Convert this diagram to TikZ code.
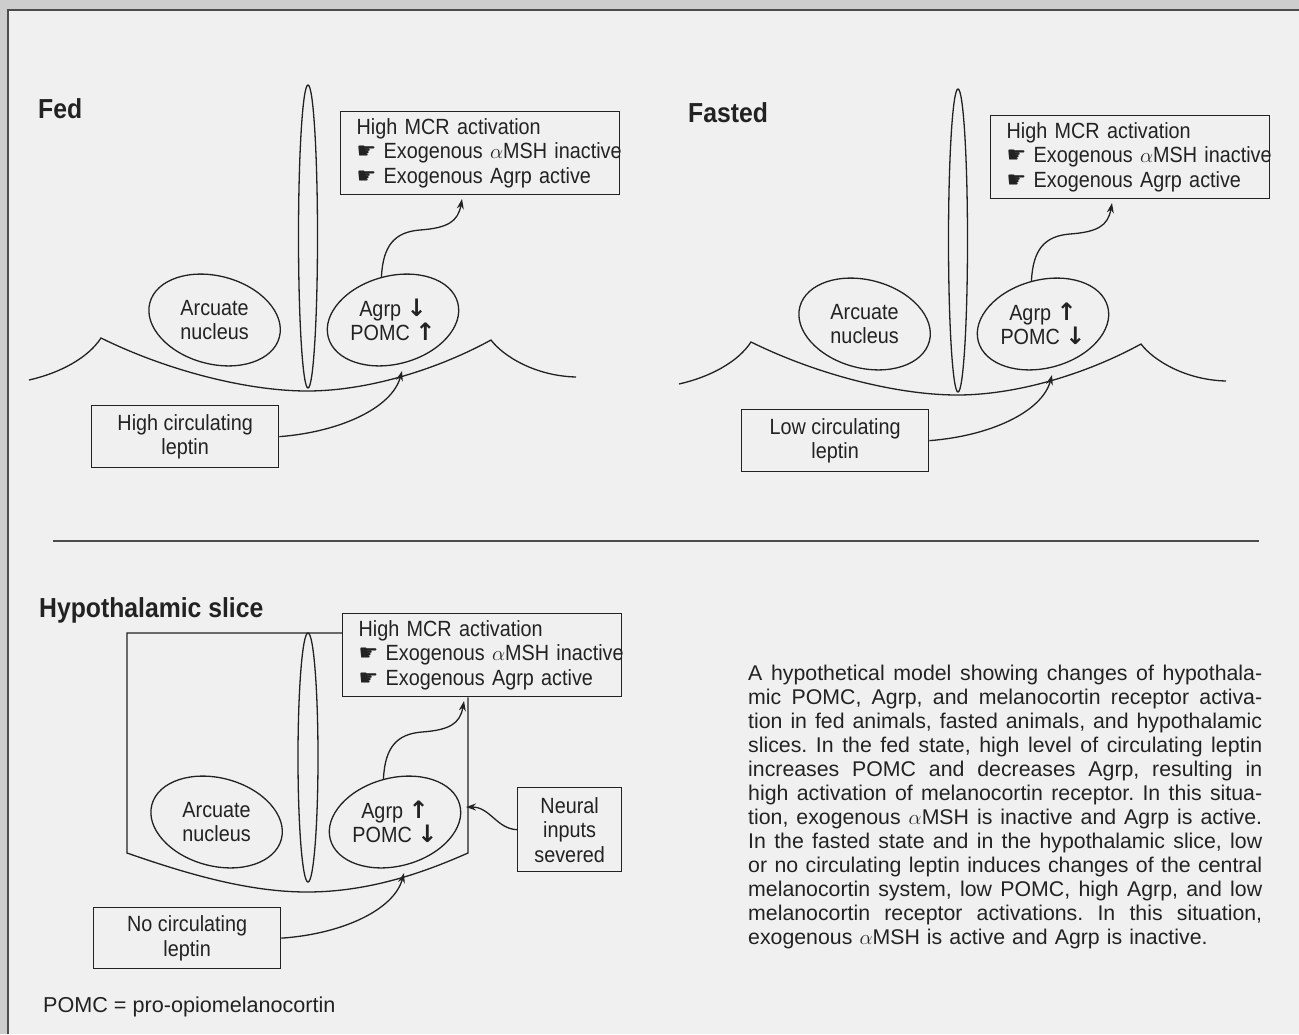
\documentclass[tikz,border=0pt]{standalone}
\usepackage{fontspec}
\setmainfont{Liberation Sans}
\newfontfamily\narrowfont[FakeStretch=0.9]{Liberation Sans}
\newfontfamily\dejavu{DejaVu Sans}
\usetikzlibrary{arrows.meta,shapes.geometric}

\definecolor{paper}{HTML}{F0F0F0}
\definecolor{margin}{HTML}{CDCDCD}
\definecolor{ink}{HTML}{222222}

\newcommand{\hand}{{\dejavu\char"261B}}
\newcommand{\arrup}{{\dejavu\bfseries\fontsize{24}{24}\selectfont\char"2191}}
\newcommand{\arrdown}{{\dejavu\bfseries\fontsize{24}{24}\selectfont\char"2193}}
\newcommand{\capline}[1]{\makebox[514pt][s]{\frenchspacing\spaceskip=0.25em plus 1fil\relax #1}}

\tikzset{
	outline/.style={draw=ink, line width=1.3pt},
	nucleus/.style={outline, ellipse, minimum width=134pt, minimum height=88pt, inner sep=0pt},
	lbl/.style={font={\narrowfont\fontsize{22}{24}\selectfont}, align=center, text=ink},
	infobox/.style={outline, anchor=north west, minimum width=279pt, minimum height=83pt,
		text width=247pt, inner xsep=16pt, inner ysep=0pt, align=left, text=ink,
		font={\narrowfont\fontsize{22}{24.5}\selectfont}},
	textbox/.style={outline, anchor=north west, inner sep=0pt, align=center, text=ink,
		font={\narrowfont\fontsize{22}{24.5}\selectfont}},
	paneltitle/.style={anchor=west, text=ink, inner sep=0pt, font={\narrowfont\bfseries\fontsize{27.5}{30}\selectfont}},
	signal/.style={draw=ink, line width=1.3pt, -{Stealth[length=10pt,width=7pt]}}
}

\begin{document}
\begin{tikzpicture}[x=1pt,y=-1pt]

	\useasboundingbox (0,0) rectangle (1299,1034);
	\fill[margin] (0,0) rectangle (1299,1034);
	\fill[paper] (8,10) rectangle (1299,1034);
	\draw[gray!60!black, line width=1.5pt] (8,1034) -- (8,10) -- (1299,10);

	% fed
	\node[paneltitle] (fed-title) at (38,109) {Fed};
	\draw[outline] (308,236.5) ellipse [x radius=9.5, y radius=151.5];
	\node[nucleus, rotate=-15] (fed-arc) at (214.6,320) {};
	\node[lbl] at (fed-arc) {Arcuate\\nucleus};
	\node[nucleus, rotate=15] (fed-agrp) at (393,320) {};
	\node[lbl] at (fed-agrp) {Agrp \arrdown\\POMC \arrup};
	\node[infobox] (fed-mcr) at (340,111) {High MCR activation\\
		\mbox{\hand\ Exogenous \ensuremath{\alpha}MSH inactive}\\
		\mbox{\hand\ Exogenous Agrp active}};
	\node[textbox, minimum width=187pt, minimum height=62pt] (fed-lep) at (91,405) {High circulating\\leptin};
	\draw[outline] (29,380) .. controls (60,373) and (88,358) .. (101,338)
		.. controls (170,372) and (250,391) .. (307,391)
		.. controls (370,391) and (440,368) .. (491,340)
		.. controls (503,356) and (535,376) .. (576,377);
	\coordinate (fed-in) at (402,371);
	\coordinate (fed-out) at (462,199);
	\draw[signal] (fed-lep.east) .. controls (340,432) and (392,408) .. (fed-in);
	\draw[signal] (fed-agrp.north) .. controls (383,245) and (395,232) .. (420,230)
		.. controls (447,228) and (458,222) .. (fed-out);

	% fasted
	\node[paneltitle] (fas-title) at (688,113) {Fasted};
	\draw[outline] (958,240.5) ellipse [x radius=9.5, y radius=151.5];
	\node[nucleus, rotate=-15] (fas-arc) at (864.6,324) {};
	\node[lbl] at (fas-arc) {Arcuate\\nucleus};
	\node[nucleus, rotate=15] (fas-agrp) at (1043,324) {};
	\node[lbl] at (fas-agrp) {Agrp \arrup\\POMC \arrdown};
	\node[infobox] (fas-mcr) at (990,115) {High MCR activation\\
		\mbox{\hand\ Exogenous \ensuremath{\alpha}MSH inactive}\\
		\mbox{\hand\ Exogenous Agrp active}};
	\node[textbox, minimum width=187pt, minimum height=62pt] (fas-lep) at (741,409) {Low circulating\\leptin};
	\draw[outline] (679,384) .. controls (710,377) and (738,362) .. (751,342)
		.. controls (820,376) and (900,395) .. (957,395)
		.. controls (1020,395) and (1090,372) .. (1141,344)
		.. controls (1153,360) and (1185,380) .. (1226,381);
	\coordinate (fas-in) at (1052,375);
	\coordinate (fas-out) at (1112,203);
	\draw[signal] (fas-lep.east) .. controls (990,436) and (1042,412) .. (fas-in);
	\draw[signal] (fas-agrp.north) .. controls (1033,249) and (1045,236) .. (1070,234)
		.. controls (1097,232) and (1108,226) .. (fas-out);

	\draw[gray!60!black, line width=2pt] (53,541) -- (1259,541);

	% hypothalamic slice
	\node[paneltitle] (sli-title) at (39,610) {Hypothalamic slice};
	\node[infobox] (sli-mcr) at (342,613) {High MCR activation\\
		\mbox{\hand\ Exogenous \ensuremath{\alpha}MSH inactive}\\
		\mbox{\hand\ Exogenous Agrp active}};
	\draw[outline] (sli-mcr.west |- 0,633) -- (127,633) -- (127,853)
		.. controls (190,875) and (250,892) .. (307,892)
		.. controls (370,892) and (425,872) .. (468,853) -- (468,0 |- sli-mcr.south);
	\draw[outline] (308,757.5) ellipse [x radius=10, y radius=124.5];
	\node[nucleus, rotate=-15] (sli-arc) at (216.6,822) {};
	\node[lbl] at (sli-arc) {Arcuate\\nucleus};
	\node[nucleus, rotate=15] (sli-agrp) at (395,822) {};
	\node[lbl] at (sli-agrp) {Agrp \arrup\\POMC \arrdown};
	\node[textbox, minimum width=104pt, minimum height=84pt] (sli-neur) at (517,787) {Neural\\inputs\\severed};
	\node[textbox, minimum width=187pt, minimum height=61pt] (sli-lep) at (93,907) {No circulating\\leptin};
	\coordinate (sli-in) at (404,873);
	\coordinate (sli-out) at (464,701);
	\coordinate (sli-side) at (466,807);
	\draw[signal] (sli-lep.east) .. controls (342,934) and (394,910) .. (sli-in);
	\draw[signal] (sli-agrp.north) .. controls (385,747) and (397,734) .. (422,732)
		.. controls (449,730) and (460,724) .. (sli-out);
	\draw[signal] (sli-neur.west) .. controls (497,829) and (490,807) .. (sli-side);

	\node[anchor=west, inner sep=0pt, text=ink, font={\fontsize{21.6}{24}\selectfont}] (note) at (43,1007) {POMC = pro-opiomelanocortin};

	\node[anchor=base west, inner sep=0pt, text width=514pt, text=ink, font={\fontsize{21.3}{24}\selectfont}] (caption) at (748,680.6) {%
		\capline{A hypothetical model showing changes of hypothala-}\\
		\capline{mic POMC, Agrp, and melanocortin receptor activa-}\\
		\capline{tion in fed animals, fasted animals, and hypothalamic}\\
		\capline{slices. In the fed state, high level of circulating leptin}\\
		\capline{increases POMC and decreases Agrp, resulting in}\\
		\capline{high activation of melanocortin receptor. In this situa-}\\
		\capline{tion, exogenous $\alpha$MSH is inactive and Agrp is active.}\\
		\capline{In the fasted state and in the hypothalamic slice, low}\\
		\capline{or no circulating leptin induces changes of the central}\\
		\capline{melanocortin system, low POMC, high Agrp, and low}\\
		\capline{melanocortin receptor activations. In this situation,}\\
		exogenous $\alpha$MSH is active and Agrp is inactive.};

\end{tikzpicture}
\end{document}
